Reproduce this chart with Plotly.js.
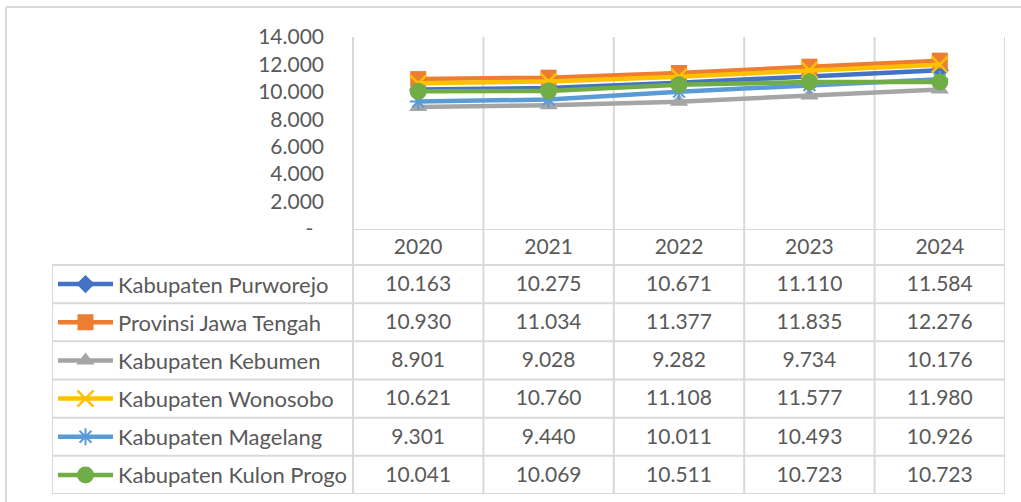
<!DOCTYPE html>
<html><head><meta charset="utf-8">
<script src="https://cdn.plot.ly/plotly-3.0.1.min.js"></script>
<style>html,body{margin:0;padding:0;background:#fff;}#chart{width:1021px;height:502px;}</style>
</head><body><div id="chart"></div>
<script>
// ---- data ----
const years = ['2020', '2021', '2022', '2023', '2024'];
const seriesNames = ['Kabupaten Purworejo', 'Provinsi Jawa Tengah', 'Kabupaten Kebumen', 'Kabupaten Wonosobo', 'Kabupaten Magelang', 'Kabupaten Kulon Progo'];
const purworejo  = [10163, 10275, 10671, 11110, 11584];
const jawaTengah = [10930, 11034, 11377, 11835, 12276];
const kebumen    = [8901, 9028, 9282, 9734, 10176];
const wonosobo   = [10621, 10760, 11108, 11577, 11980];
const magelang   = [9301, 9440, 10011, 10493, 10926];
const kulonProgo = [10041, 10069, 10511, 10723, 10723];
const yTickVals  = [0, 2000, 4000, 6000, 8000, 10000, 12000, 14000];
const yTickText  = ['-\u00a0\u00a0', '2.000', '4.000', '6.000', '8.000', '10.000', '12.000', '14.000'];

const seriesValues = [purworejo, jawaTengah, kebumen, wonosobo, magelang, kulonProgo];

// ---- styles ----
const colors = ['#4472C4', '#ED7D31', '#A5A5A5', '#FFC000', '#5B9BD5', '#70AD47'];
const markers = [
  {symbol: 'diamond', size: 14},
  {symbol: 'square', size: 16},
  {symbol: 'triangle-up', size: 16},
  {symbol: 'x-thin-open', size: 16, lw: 2.5},
  {symbol: 'asterisk-open', size: 14, lw: 2},
  {symbol: 'circle', size: 17}
];
const FONT = 'Lato, "Open Sans", sans-serif';
const TXT = '#595959';
const GRID = '#D9D9D9';
const FS = 21;      // numbers & ticks
const FS_NAME = 22; // series names

// ---- geometry (px) ----
const W = 1021, H = 502;
const plotL = 353, plotR = 1005, plotT = 37, plotB = 229;
const tabL = 52, tabB = 494, row1T = 265;
const colW = (plotR - plotL) / years.length;
const x2min = -0.5 - (plotL - tabL) / colW;
const rowH = (tabB - row1T) / seriesNames.length;
const y2top = -0.5 - (row1T - plotB) / rowH;
const px2x2 = p => x2min + (p - tabL) / colW;
const fy = p => 1 - p / H;
const textNudge = 1.5 / rowH; // small downward nudge of table numbers

function fmt(v) { return String(v).replace(/\B(?=(\d{3})+(?!\d))/g, '.'); }

const traces = [];
// chart lines
seriesValues.forEach((vals, i) => {
  const m = markers[i];
  traces.push({
    type: 'scatter', mode: 'lines+markers', x: years, y: vals, name: seriesNames[i],
    xaxis: 'x', yaxis: 'y', hoverinfo: 'skip', cliponaxis: false,
    line: {color: colors[i], width: 4.5},
    marker: {symbol: m.symbol, size: m.size, color: colors[i], line: {color: colors[i], width: m.lw || 0}}
  });
});
// legend keys in table
const keyX = [px2x2(58), px2x2(85.5), px2x2(113)];
seriesNames.forEach((n, i) => {
  const m = markers[i];
  traces.push({
    type: 'scatter', mode: 'lines+markers', x: keyX, y: [i, i, i],
    xaxis: 'x2', yaxis: 'y2', hoverinfo: 'skip', cliponaxis: false,
    line: {color: colors[i], width: 4.5},
    marker: {symbol: m.symbol, size: [0, m.size, 0], opacity: [0, 1, 0], color: colors[i], line: {color: colors[i], width: m.lw || 0}}
  });
});
// table numbers
seriesValues.forEach((vals, i) => {
  traces.push({
    type: 'scatter', mode: 'text', x: years.map((_, j) => j), y: vals.map(() => i + textNudge),
    text: vals.map(fmt), textposition: 'middle center',
    textfont: {family: FONT, size: FS, color: TXT},
    xaxis: 'x2', yaxis: 'y2', hoverinfo: 'skip', cliponaxis: false
  });
});
// header years
traces.push({
  type: 'scatter', mode: 'text', x: years.map((_, j) => j), y: years.map(() => (y2top - 0.5) / 2 + textNudge),
  text: years, textposition: 'middle center',
  textfont: {family: FONT, size: FS, color: TXT},
  xaxis: 'x2', yaxis: 'y2', hoverinfo: 'skip', cliponaxis: false
});

const annotations = seriesNames.map((n, i) => ({
  xref: 'x2', yref: 'y2', x: px2x2(116), y: i, text: n, showarrow: false,
  xanchor: 'left', yanchor: 'middle', font: {family: FONT, size: FS_NAME, color: TXT}
}));

const ln = {color: GRID, width: 2};
const shapes = [];
// outer border
shapes.push({type: 'line', xref: 'paper', yref: 'paper', x0: 6 / W, x1: 1.02, y0: fy(7), y1: fy(7), line: ln});
shapes.push({type: 'line', xref: 'paper', yref: 'paper', x0: 6 / W, x1: 6 / W, y0: fy(7), y1: -0.02, line: ln});
// vertical grid / table column lines
for (let k = 0; k <= years.length; k++) {
  shapes.push({type: 'line', xref: 'x2', yref: 'paper', x0: k - 0.5, x1: k - 0.5, y0: fy(plotT), y1: fy(tabB), line: ln, layer: 'below'});
}
// table left border
shapes.push({type: 'line', xref: 'x2', yref: 'y2', x0: x2min, x1: x2min, y0: -0.5, y1: seriesNames.length - 0.5, line: ln, layer: 'below'});
// x axis line / header bottom
shapes.push({type: 'line', xref: 'x2', yref: 'y2', x0: -0.5, x1: years.length - 0.5, y0: y2top, y1: y2top, line: ln, layer: 'below'});
for (let r = 0; r <= seriesNames.length; r++) {
  shapes.push({type: 'line', xref: 'x2', yref: 'y2', x0: x2min, x1: years.length - 0.5, y0: r - 0.5, y1: r - 0.5, line: ln, layer: 'below'});
}

const layout = {
  width: W, height: H, autosize: false,
  margin: {l: 0, r: 0, t: 0, b: 0, pad: 0},
  paper_bgcolor: '#fff', plot_bgcolor: 'rgba(0,0,0,0)',
  showlegend: false, hovermode: false,
  font: {family: FONT, color: TXT, size: FS},
  xaxis: {type: 'category', domain: [plotL / W, plotR / W], range: [-0.5, years.length - 0.5],
          showgrid: false, showline: false, zeroline: false, showticklabels: false, ticks: '', fixedrange: true},
  yaxis: {domain: [fy(plotB), fy(plotT)], range: [0, 14000], tickvals: yTickVals, ticktext: yTickText,
          showgrid: false, showline: false, zeroline: false, ticks: '', ticklabelstandoff: 28,
          tickfont: {family: FONT, size: FS, color: TXT}, fixedrange: true},
  xaxis2: {domain: [tabL / W, plotR / W], range: [x2min, years.length - 0.5], anchor: 'y2',
           visible: false, fixedrange: true},
  yaxis2: {domain: [fy(tabB), fy(plotB)], range: [seriesNames.length - 0.5, y2top], anchor: 'x2',
           visible: false, fixedrange: true},
  shapes: shapes,
  annotations: annotations
};

Plotly.newPlot('chart', traces, layout, {staticPlot: true, displayModeBar: false});
</script>
</body></html>
